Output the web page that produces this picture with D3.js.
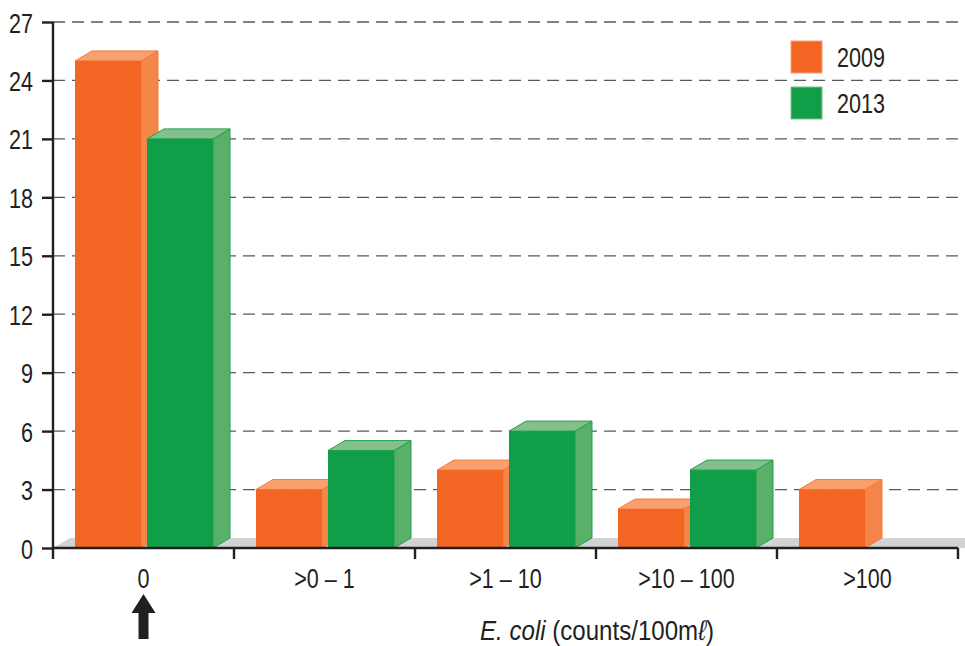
<!DOCTYPE html>
<html>
<head>
<meta charset="utf-8">
<script src="https://cdn.jsdelivr.net/npm/d3@7"></script>
<style>
  html, body { margin: 0; padding: 0; background: #ffffff; }
  svg { display: block; }
  text { font-family: "Liberation Sans", Arial, Helvetica, sans-serif; fill: #231f20; }
</style>
</head>
<body>
<svg id="chart" width="965" height="646"></svg>
<script>
// E. coli counts per 100 mℓ, number of samples in each class
const categories = ["0", ">0 – 1", ">1 – 10", ">10 – 100", ">100"];
const seriesNames = ["2009", "2013"];
const values2009 = [25, 3, 4, 2, 3];
const values2013 = [21, 5, 6, 4, 0];
const yTicks = [0, 3, 6, 9, 12, 15, 18, 21, 24, 27];

const palette = {
  "2009": { front: "#f26522", side: "#f5864a", top: "#f9a06e", edge: "#f47a36" },
  "2013": { front: "#109f48", side: "#58b069", top: "#84c08b", edge: "#1ea24e" }
};

// condensed look for the labels
const fontSize = 28, squeeze = 0.77;

const svg = d3.select("#chart");
const plotLeft = 53, plotRight = 958, plotTop = 22, plotBottom = 548;
const depthX = 17, depthY = 10;

const y = d3.scaleLinear().domain([0, 27]).range([plotBottom, plotTop]);
const x0 = d3.scaleBand().domain(categories).range([plotLeft, plotRight]).padding(0);
const x1 = d3.scaleBand().domain(seriesNames).range([22, 160]).paddingInner(0.083);

// dashed grid lines
svg.append("g")
  .selectAll("line")
  .data(yTicks.filter(t => t > 0))
  .join("line")
  .attr("x1", plotLeft).attr("x2", 963)
  .attr("y1", d => y(d)).attr("y2", d => y(d))
  .attr("stroke", "#58595b")
  .attr("stroke-width", 1.3)
  .attr("stroke-dasharray", "12,7");

// grey floor
svg.append("path")
  .attr("d", `M${plotLeft},${plotBottom} L${plotLeft + depthX},${plotBottom - depthY} L965,${plotBottom - depthY} L965,${plotBottom} Z`)
  .attr("fill", "#d1d3d4");

// 3D bars
const rows = [];
categories.forEach((c, i) => {
  rows.push({ cat: c, series: "2009", value: values2009[i] });
  rows.push({ cat: c, series: "2013", value: values2013[i] });
});

const bars = svg.append("g")
  .selectAll("g")
  .data(rows.filter(d => d.value > 0))
  .join("g");

bars.each(function(d) {
  const g = d3.select(this);
  const col = palette[d.series];
  const bx = x0(d.cat) + x1(d.series);
  const w = x1.bandwidth();
  const yt = y(d.value), yb = y(0);
  g.append("path")
    .attr("d", `M${bx + w},${yt} L${bx + w + depthX},${yt - depthY} L${bx + w + depthX},${yb - depthY} L${bx + w},${yb} Z`)
    .attr("fill", col.side).attr("stroke", col.edge).attr("stroke-width", 1).attr("stroke-linejoin", "round");
  g.append("path")
    .attr("d", `M${bx},${yt} L${bx + depthX},${yt - depthY} L${bx + w + depthX},${yt - depthY} L${bx + w},${yt} Z`)
    .attr("fill", col.top).attr("stroke", col.edge).attr("stroke-width", 1).attr("stroke-linejoin", "round");
  g.append("rect")
    .attr("x", bx).attr("y", yt)
    .attr("width", w).attr("height", yb - yt)
    .attr("fill", col.front);
});

// y axis
const yAxis = svg.append("g")
  .attr("transform", `translate(${plotLeft},0)`)
  .call(d3.axisLeft(y).tickValues(yTicks).tickSize(11).tickPadding(9));
yAxis.select(".domain").attr("stroke", "#231f20").attr("stroke-width", 2.4).attr("d", `M0,${plotTop}V${plotBottom}`);
yAxis.selectAll(".tick line").attr("stroke", "#231f20").attr("stroke-width", 2.4);
yAxis.selectAll(".tick text")
  .style("font-size", fontSize + "px").attr("fill", "#231f20")
  .attr("x", 0).attr("dy", "0.36em")
  .attr("transform", `translate(-20,0) scale(${squeeze},1)`);

// x axis
const xAxis = svg.append("g")
  .attr("transform", `translate(0,${plotBottom})`)
  .call(d3.axisBottom(x0).tickSize(0));
xAxis.select(".domain").attr("stroke", "#231f20").attr("stroke-width", 2.4).attr("d", `M${plotLeft},0H${plotRight}`);
xAxis.selectAll(".tick text")
  .style("font-size", fontSize + "px").attr("fill", "#231f20")
  .attr("y", 0).attr("dy", 0)
  .attr("transform", `translate(0,40) scale(${squeeze},1)`);
// class boundary ticks
xAxis.append("g")
  .selectAll("line")
  .data(categories.map(c => x0(c)).concat([plotRight]))
  .join("line")
  .attr("x1", d => d).attr("x2", d => d)
  .attr("y1", 0).attr("y2", 11)
  .attr("stroke", "#231f20").attr("stroke-width", 2.4);

// arrow under the "0" class
const ax = x0(categories[0]) + x0.bandwidth() / 2;
svg.append("path")
  .attr("d", `M${ax},594 L${ax + 12},613 L${ax + 5},613 L${ax + 5},639 L${ax - 5},639 L${ax - 5},613 L${ax - 12},613 Z`)
  .attr("fill", "#231f20");

// axis title
const title = svg.append("text")
  .attr("transform", `translate(597,640) scale(0.86,1)`)
  .attr("text-anchor", "middle")
  .style("font-size", fontSize + "px");
title.append("tspan").attr("font-style", "italic").text("E. coli");
title.append("tspan").text(" (counts/100m");
title.append("tspan").attr("font-style", "italic").text("ℓ");
title.append("tspan").text(")");

// legend
const legend = svg.append("g")
  .selectAll("g")
  .data(seriesNames)
  .join("g")
  .attr("transform", (d, i) => `translate(791,${41 + i * 46})`);
legend.append("rect")
  .attr("width", 31).attr("height", 32)
  .attr("fill", d => palette[d].front)
  .attr("stroke", d => palette[d].top).attr("stroke-width", 1);
legend.append("text")
  .attr("transform", `translate(46,16) scale(${squeeze},1)`)
  .attr("dy", "0.36em")
  .style("font-size", fontSize + "px")
  .text(d => d);
</script>
</body>
</html>
